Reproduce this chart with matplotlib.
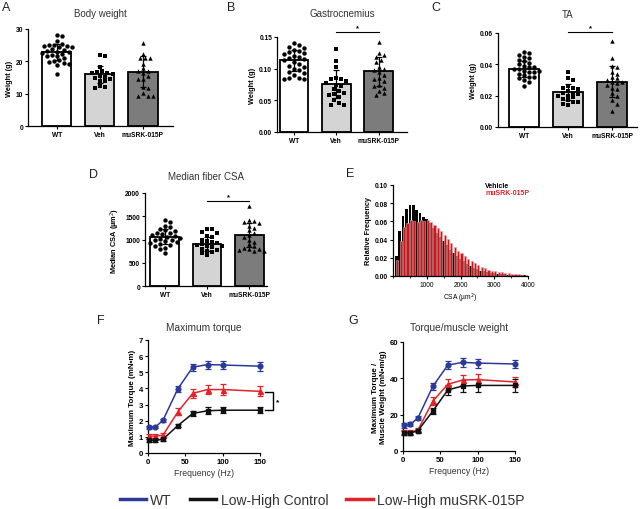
import matplotlib
matplotlib.use('Agg')
import matplotlib.pyplot as plt
from matplotlib.lines import Line2D
import numpy as np

plt.rcParams['font.family'] = ['Liberation Sans', 'DejaVu Sans']

W, H = 641, 510

groups = ["WT", "Veh", "muSRK-015P"]
bar_colors = ["white", "#d4d4d4", "#7c7c7c"]
markers = ["o", "s", "^"]

# A - body weight (g)
bw_wt = [28.1, 27.7, 26.3, 25.3, 25.0, 25.0, 24.8, 24.7, 24.5, 24.3, 23.8, 23.5, 23.2, 23.0,
         22.8, 22.5, 22.3, 22.0, 21.8, 21.5, 21.0, 20.3, 20.0, 19.8, 19.5, 19.3, 18.8, 16.2]
bw_veh = [22.0, 21.5, 18.3, 17.0, 16.8, 16.5, 16.5, 16.0, 15.5, 15.3, 15.0, 14.5, 14.0, 13.8,
          12.3, 12.0, 11.8]
bw_srk = [25.8, 22.2, 21.0, 21.0, 21.0, 19.3, 17.8, 17.0, 17.0, 16.3, 15.5, 14.5, 14.5, 12.0,
          11.8, 10.3, 9.3, 9.3, 9.2]
bw_mean = [23.0, 16.0, 16.8]
bw_sd = [2.5, 2.6, 4.7]

# B - gastrocnemius (g)
gas_wt = [0.140, 0.137, 0.135, 0.133, 0.130, 0.128, 0.127, 0.125, 0.123, 0.120, 0.118, 0.117,
          0.115, 0.113, 0.110, 0.107, 0.105, 0.103, 0.100, 0.098, 0.095, 0.093, 0.090, 0.085,
          0.085, 0.083, 0.083]
gas_veh = [0.131, 0.112, 0.103, 0.085, 0.083, 0.083, 0.080, 0.078, 0.075, 0.073, 0.068, 0.065,
           0.062, 0.060, 0.058, 0.055, 0.050, 0.046, 0.043, 0.042]
gas_srk = [0.142, 0.125, 0.122, 0.118, 0.113, 0.110, 0.103, 0.100, 0.098, 0.095, 0.090, 0.085,
           0.083, 0.080, 0.075, 0.073, 0.070, 0.065, 0.062, 0.058]
gas_mean = [0.113, 0.076, 0.096]
gas_sd = [0.016, 0.022, 0.023]

# C - TA (g)
ta_wt = [0.048, 0.047, 0.046, 0.045, 0.044, 0.043, 0.042, 0.041, 0.040, 0.039, 0.038, 0.038,
         0.037, 0.037, 0.036, 0.036, 0.035, 0.035, 0.034, 0.033, 0.032, 0.032, 0.031, 0.030,
         0.029, 0.026]
ta_veh = [0.035, 0.031, 0.030, 0.026, 0.025, 0.025, 0.024, 0.023, 0.022, 0.022, 0.021, 0.020,
          0.020, 0.019, 0.018, 0.017, 0.016, 0.016, 0.015, 0.014]
ta_srk = [0.055, 0.044, 0.039, 0.038, 0.035, 0.034, 0.032, 0.031, 0.030, 0.029, 0.029, 0.028,
          0.027, 0.025, 0.024, 0.022, 0.020, 0.017, 0.015, 0.010]
ta_mean = [0.037, 0.0225, 0.029]
ta_sd = [0.005, 0.005, 0.010]

# D - median fiber CSA (um2)
csa_wt = [1430, 1380, 1300, 1260, 1220, 1200, 1180, 1150, 1130, 1110, 1100, 1080, 1060, 1040,
          1020, 1000, 980, 960, 950, 930, 900, 880, 870, 820, 800, 720]
csa_veh = [1230, 1220, 1170, 1150, 1080, 1050, 1000, 960, 940, 920, 900, 880, 860, 850, 830,
           800, 780, 760, 730, 700, 660]
csa_srk = [1710, 1420, 1400, 1380, 1350, 1300, 1250, 1200, 1130, 1100, 1050, 1000, 950, 900,
           850, 820, 800, 790, 780, 760, 750]
csa_mean = [1060, 910, 1090]
csa_sd = [160, 150, 260]

# E - CSA distribution
hist_bins = list(range(100, 4100, 100))
hist_vehicle = [0.022, 0.049, 0.066, 0.074, 0.078, 0.078, 0.073, 0.069, 0.065, 0.063,
                0.058, 0.053, 0.047, 0.043, 0.039, 0.034, 0.029, 0.025, 0.022, 0.019,
                0.016, 0.013, 0.011, 0.009, 0.008, 0.006, 0.005, 0.004, 0.0035, 0.003,
                0.0025, 0.002, 0.0018, 0.0015, 0.0012, 0.001, 0.0008, 0.0007, 0.0006, 0.0005]
hist_srk = [0.018, 0.039, 0.054, 0.058, 0.061, 0.060, 0.059, 0.061, 0.060, 0.061,
            0.059, 0.056, 0.053, 0.049, 0.045, 0.041, 0.036, 0.032, 0.028, 0.025,
            0.022, 0.019, 0.016, 0.014, 0.012, 0.010, 0.0085, 0.007, 0.006, 0.005,
            0.0045, 0.004, 0.0035, 0.003, 0.0025, 0.002, 0.002, 0.0015, 0.0012, 0.001]

# F / G - force-frequency
freq = [1, 10, 20, 40, 60, 80, 100, 150]
tq_wt = [1.60, 1.62, 2.02, 3.98, 5.32, 5.48, 5.45, 5.38]
tq_wt_err = [0.10, 0.08, 0.08, 0.20, 0.22, 0.25, 0.25, 0.28]
tq_srk = [1.05, 1.05, 1.10, 2.55, 3.70, 3.93, 3.93, 3.82]
tq_srk_err = [0.10, 0.10, 0.12, 0.22, 0.28, 0.30, 0.32, 0.30]
tq_ctl = [0.78, 0.78, 0.85, 1.70, 2.45, 2.62, 2.65, 2.65]
tq_ctl_err = [0.08, 0.08, 0.08, 0.12, 0.18, 0.20, 0.20, 0.20]

tw_wt = [14.1, 14.7, 18.2, 35.6, 47.3, 48.8, 48.4, 47.9]
tw_wt_err = [1.2, 1.0, 1.0, 2.0, 2.3, 2.5, 2.5, 2.3]
tw_srk = [10.3, 10.3, 11.5, 27.5, 36.7, 39.1, 39.3, 38.0]
tw_srk_err = [1.0, 1.0, 1.0, 2.0, 3.0, 3.0, 3.0, 2.5]
tw_ctl = [9.9, 9.9, 11.2, 22.0, 33.6, 35.8, 36.1, 36.1]
tw_ctl_err = [1.0, 1.0, 1.0, 1.8, 2.8, 3.5, 3.5, 3.5]

BLUE = "#2b3a98"
RED = "#e0242a"
BLACK = "#111111"


def box(x0, y0, x1, y1):
    return [x0 / W, 1 - y1 / H, (x1 - x0) / W, (y1 - y0) / H]


def fx(x):
    return x / W


def fy(y):
    return 1 - y / H


def swarm(vals, ymax, h_px, step_px, d=4.6, max_off=0.36):
    # simple beeswarm kept inside the bar: nearest free slot, else least crowded one
    vals = np.asarray(vals, float)
    xs = np.zeros(len(vals))
    placed = []
    lim = max_off * step_px
    cands = [0.0]
    k = 1
    while k * d * 0.55 <= lim:
        cands += [k * d * 0.55, -k * d * 0.55]
        k += 1
    for i in np.argsort(vals)[::-1]:
        y = vals[i] / ymax * h_px
        best, best_gap = 0.0, -1
        for off in cands:
            gap = min([np.hypot(px - off, py - y) for px, py in placed] or [99])
            if gap >= d:
                best = off
                break
            if gap > best_gap:
                best, best_gap = off, gap
        placed.append((best, y))
        xs[i] = best / step_px
    return xs


def style(ax, fs=4.8):
    for s in ['top', 'right']:
        ax.spines[s].set_visible(False)
    for s in ['left', 'bottom']:
        ax.spines[s].set_linewidth(0.9)
    ax.tick_params(labelsize=fs, length=2, width=0.8, pad=1.5)
    for t in ax.get_xticklabels() + ax.get_yticklabels():
        t.set_fontweight('bold')


fig = plt.figure(figsize=(W / 100, H / 100), dpi=100)


def bar_panel(px, data, means, sds, ymax, yticks, ytl, xlim, ylabel, title, title_y, letter, sig=None):
    ax = fig.add_axes(box(*px))
    h_px = px[3] - px[1]
    step = (px[2] - px[0]) / (xlim[1] - xlim[0])
    for i in range(3):
        ax.bar(i, means[i], width=0.68, color=bar_colors[i], edgecolor='black', linewidth=1.3, zorder=1)
        offs = swarm(data[i], ymax, h_px, step)
        ax.scatter(i + offs, data[i], marker=markers[i], s=10, c='black', linewidths=0, zorder=2)
        ax.errorbar(i, means[i], yerr=sds[i], color='black', capsize=2.4, elinewidth=0.9,
                    capthick=0.9, zorder=3)
    ax.set_xlim(*xlim)
    ax.set_ylim(0, ymax)
    ax.set_yticks(yticks)
    ax.set_yticklabels(ytl)
    ax.set_xticks(range(3))
    ax.set_xticklabels(groups)
    ax.set_ylabel(ylabel, fontsize=5.3, fontweight='bold', labelpad=2)
    style(ax)
    cx = (px[0] + px[2]) / 2
    fig.text(fx(cx), fy(title_y), title, ha='center', va='center', fontsize=7, color='#333333')
    fig.text(fx(letter[0]), fy(letter[1]), letter[2], ha='center', va='center', fontsize=9, color='#222222')
    if sig is not None:
        ax.plot([1, 2], [sig[0], sig[0]], color='black', lw=0.8, clip_on=False)
        ax.text(1.5, sig[1], '*', ha='center', va='center', fontsize=5.5, fontweight='bold')
    return ax


bar_panel((28, 30, 173, 127), [bw_wt, bw_veh, bw_srk], bw_mean, bw_sd, 30, [0, 10, 20, 30],
          ['0', '10', '20', '30'], (-0.67, 2.7), 'Weight (g)', 'Body weight', 14, (6, 8, 'A'))
bar_panel((277, 38, 407, 133), [gas_wt, gas_veh, gas_srk], gas_mean, gas_sd, 0.15,
          [0, 0.05, 0.10, 0.15], ['0.00', '0.05', '0.10', '0.15'], (-0.4, 2.67), 'Weight (g)',
          'Gastrocnemius', 14, (231, 8, 'B'), sig=(0.158, 0.165))
bar_panel((498, 34, 637, 128), [ta_wt, ta_veh, ta_srk], ta_mean, ta_sd, 0.06,
          [0, 0.02, 0.04, 0.06], ['0.00', '0.02', '0.04', '0.06'], (-0.59, 2.56), 'Weight (g)',
          'TA', 15, (436, 8, 'C'), sig=(0.0606, 0.0635))
bar_panel((145, 194, 267, 287), [csa_wt, csa_veh, csa_srk], csa_mean, csa_sd, 2000,
          [0, 500, 1000, 1500, 2000], ['0', '500', '1000', '1500', '2000'], (-0.47, 2.42),
          'Median CSA (µm$^2$)', 'Median fiber CSA', 177, (94, 175, 'D'), sig=(1820, 1930))

# E - histogram
axE = fig.add_axes(box(393, 186, 528, 277))
axE.bar(hist_bins, hist_vehicle, width=75, color='black', linewidth=0, zorder=1)
axE.bar(np.array(hist_bins) + 30, hist_srk, width=62, color='#cf161c', edgecolor='#f2a3a3',
        linewidth=0.4, zorder=2)
axE.set_xlim(0, 4000)
axE.set_ylim(0, 0.10)
axE.set_xticks([1000, 2000, 3000, 4000])
axE.set_xticks(np.arange(0, 4001, 500), minor=True)
axE.set_yticks([0, 0.02, 0.04, 0.06, 0.08, 0.10])
axE.set_yticklabels(['0.00', '0.02', '0.04', '0.06', '0.08', '0.10'])
axE.tick_params(which='minor', length=1.2, width=0.6)
axE.set_ylabel('Relative Frequency', fontsize=5.3, fontweight='bold', labelpad=2)
axE.set_xlabel('CSA (µm$^2$)', fontsize=4.8, labelpad=2)
style(axE)
for t in axE.get_xticklabels():
    t.set_fontweight('normal')
fig.text(fx(485), fy(187), 'Vehicle', fontsize=5, fontweight='bold', color='black', va='center')
fig.text(fx(485), fy(193.5), 'muSRK-015P', fontsize=5, fontweight='bold', color='#e0242a', va='center')
fig.text(fx(350), fy(174), 'E', ha='center', va='center', fontsize=9, color='#222222')


def line_panel(px, series, ymax, yticks, ylabel, title, letter):
    ax = fig.add_axes(box(*px))
    for vals, errs, col, mk, ms in series:
        ax.errorbar(freq, vals, yerr=errs, color=col, marker=mk, markersize=ms, lw=1.1,
                    elinewidth=0.9, capsize=2.2, capthick=0.9, clip_on=False, zorder=3)
    ax.set_xlim(0, 150)
    ax.set_ylim(0, ymax)
    ax.set_xticks([0, 50, 100, 150])
    ax.set_yticks(yticks)
    ax.set_ylabel(ylabel, fontsize=5.8, fontweight='bold', labelpad=2, linespacing=1.1)
    ax.set_xlabel('Frequency (Hz)', fontsize=6.2, color='#333333', labelpad=2)
    style(ax, fs=5.6)
    cx = (px[0] + px[2]) / 2
    fig.text(fx(cx), fy(328), title, ha='center', va='center', fontsize=7.3, color='#333333')
    fig.text(fx(letter[0]), fy(letter[1]), letter[2], ha='center', va='center', fontsize=9, color='#222222')
    return ax


axF = line_panel((148, 341, 260, 454),
                 [(tq_wt, tq_wt_err, BLUE, 'o', 3.4), (tq_srk, tq_srk_err, RED, '^', 3.6),
                  (tq_ctl, tq_ctl_err, BLACK, 's', 3.4)],
                 7, range(0, 8), 'Maximum Torque (mN•m)', 'Maximum torque', (101, 321, 'F'))
# significance bracket between muSRK and control at 150 Hz
axF.plot([157, 168, 168, 157], [3.8, 3.8, 2.65, 2.65], color='black', lw=1.0, clip_on=False)
axF.text(171, 3.15, '*', fontsize=6, fontweight='bold', va='center', ha='left')

line_panel((403, 343, 515, 452),
           [(tw_wt, tw_wt_err, BLUE, 'o', 3.4), (tw_srk, tw_srk_err, RED, '^', 3.6),
            (tw_ctl, tw_ctl_err, BLACK, 's', 3.4)],
           60, [0, 20, 40, 60], 'Maximum Torque /\nMuscle Weight (mN•m/g)', 'Torque/muscle weight',
           (353, 321, 'G'))

handles = [Line2D([], [], color=BLUE, lw=2.5), Line2D([], [], color=BLACK, lw=2.5),
           Line2D([], [], color=RED, lw=2.5)]
fig.legend(handles, ['WT', 'Low-High Control', 'Low-High muSRK-015P'], loc='center',
           bbox_to_anchor=(fx(322), fy(501)), ncol=3, frameon=False, fontsize=10,
           handlelength=1.9, handletextpad=0.3, columnspacing=1.3, labelcolor='#333333')

fig.savefig('out.png', dpi=100, facecolor='white')
